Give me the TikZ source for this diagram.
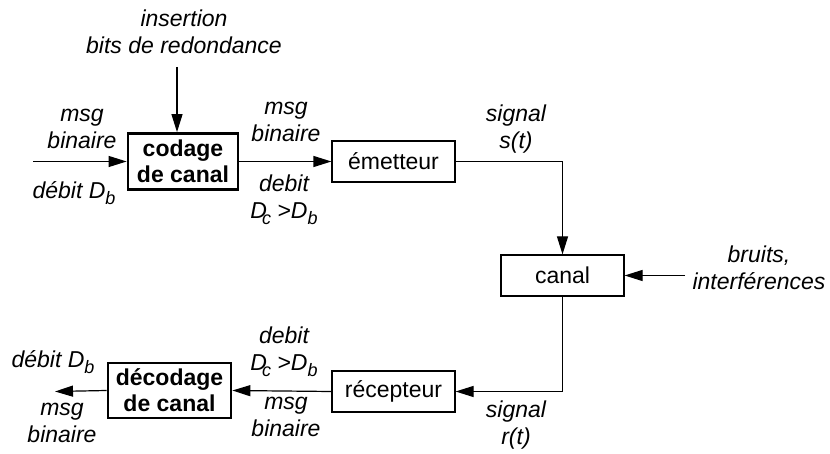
\documentclass[tikz,border=0pt]{standalone}
\usepackage{fontspec}
\setmainfont{Liberation Sans}
\usetikzlibrary{arrows.meta}
% lowered index letter used in the rate labels
\newcommand\lowsub[1]{\raisebox{-6pt}{\fontsize{18}{18}\selectfont #1}}
\begin{document}
\begin{tikzpicture}[x=1pt,y=-1pt,
  every node/.style={font=\fontsize{23}{27}\selectfont},
  blk/.style={draw,line width=1.2pt,minimum width=123pt,minimum height=41pt,inner sep=0pt},
  codblk/.style={draw,line width=2.8pt,inner sep=0pt,align=center,
                 font=\fontsize{23}{26}\selectfont\bfseries},
  lbl/.style={inner sep=0pt,align=center,font=\fontsize{23}{27}\selectfont\itshape},
  link/.style={line width=1.2pt,-{Triangle[length=18pt,width=11pt]}}]
\path[use as bounding box] (0,0) rectangle (830,454);

% blocks of the chain
\node[codblk,minimum width=110pt,minimum height=56pt] (cod) at (183,161.5) {codage\\de canal};
\node[blk] (emet) at (393.5,161.5) {émetteur};
\node[blk] (can) at (562.5,275.5) {canal};
\node[blk] (rec) at (393.5,391.5) {récepteur};
\node[codblk,minimum width=123pt,minimum height=55pt] (dec) at (169.5,390.5) {décodage\\de canal};

% free ends of the outer arrows
\coordinate (inStart) at (33,161.5);
\coordinate (insTop) at (177,67);
\coordinate (noiseStart) at (685,275.5);
\coordinate (outEnd) at (55,391.5);

% connectors
\draw[link] (inStart) -- (cod.west);
\draw[link] (insTop) -- (insTop |- cod.north);
\draw[link] (cod.east) -- (emet.west);
\draw[link] (emet.east) -| (can.north);
\draw[link] (noiseStart) -- (can.east);
\draw[link] (can.south) |- (rec.east);
\draw[link] (rec.west) -- (dec.east);
\draw[link] (dec.west) -- (outEnd);

% labels
\node[lbl] (tIns) at (184,35) {\strut insertion\\\strut bits de redondance};
\node[lbl] (tMsgIn) at (82,130) {\strut msg\\\strut binaire};
\node[lbl,anchor=base] (tRateIn) at (74,199) {débit D\lowsub{b}};
\node[lbl] (tMsgC) at (286,122.6) {\strut msg\\\strut binaire};
\node[lbl] (tRateC) at (284,200) {\strut debit\\\strut D\kern-5pt\lowsub{c} >D\lowsub{b}};
\node[lbl] (tSigS) at (516,129.6) {\strut signal\\\strut s(t)};
\node[lbl] (tNoise) at (759,270.6) {\strut bruits,\\\strut interférences};
\node[lbl] (tRateR) at (284,352) {\strut debit\\\strut D\kern-5pt\lowsub{c} >D\lowsub{b}};
\node[lbl] (tMsgR) at (286,417.6) {\strut msg\\\strut binaire};
\node[lbl] (tSigR) at (516,426) {\strut signal\\\strut r(t)};
\node[lbl,anchor=base] (tRateOut) at (53,367) {débit D\lowsub{b}};
\node[lbl] (tMsgOut) at (62,424) {\strut msg\\\strut binaire};
\end{tikzpicture}
\end{document}
